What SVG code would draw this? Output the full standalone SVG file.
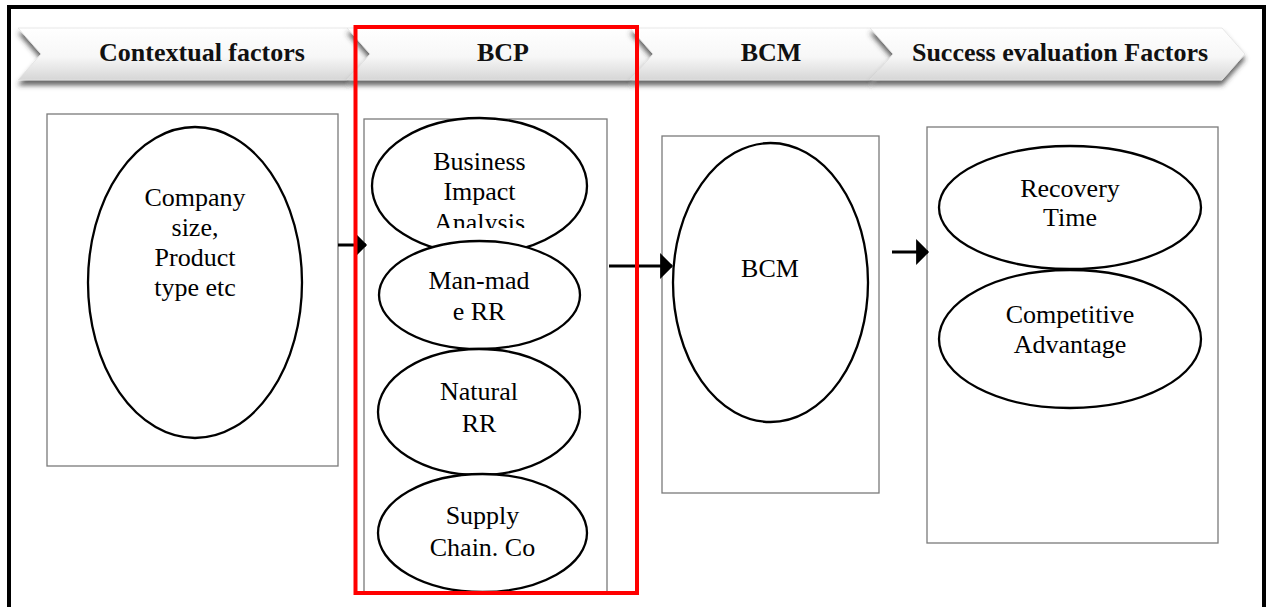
<svg xmlns="http://www.w3.org/2000/svg" width="1268" height="607" viewBox="0 0 1268 607">
<style>
.frame{fill:none;stroke:#000;stroke-width:4}
.chev{fill:url(#chevGrad);stroke:#e2e2e2;stroke-width:0.8;filter:url(#shadow)}
.chevtxt{font-family:"Liberation Serif","Times New Roman",serif;font-size:26px;font-weight:bold;fill:#111;text-anchor:middle}
.box{fill:#fff;stroke:#7a7a7a;stroke-width:1.3}
.ell{fill:#fff;stroke:#000;stroke-width:2.3}
.lbl{font-family:"Liberation Serif","Times New Roman",serif;font-size:26px;fill:#000;text-anchor:middle}
.conn{fill:none;stroke:#000;stroke-width:3;marker-end:url(#arrow)}
.red{fill:none;stroke:#ff0000;stroke-width:4}
</style>
<defs>
<linearGradient id="chevGrad" x1="0" y1="0" x2="0" y2="1">
<stop offset="0" stop-color="#ffffff"/>
<stop offset="0.55" stop-color="#f7f7f7"/>
<stop offset="1" stop-color="#d6d6d6"/>
</linearGradient>
<filter id="shadow" x="-5%" y="-20%" width="110%" height="160%">
<feGaussianBlur in="SourceAlpha" stdDeviation="2.5"/>
<feOffset dx="0" dy="5" result="b"/>
<feFlood flood-color="#333" flood-opacity="0.75"/>
<feComposite in2="b" operator="in" result="s"/>
<feMerge><feMergeNode in="s"/><feMergeNode in="SourceGraphic"/></feMerge>
</filter>
<marker id="arrow" markerUnits="userSpaceOnUse" markerWidth="14" markerHeight="28" viewBox="0 -13 12 26" refX="11" refY="0" orient="auto">
<path d="M0,-12 L12,0 L0,12 z" fill="#000"/>
</marker>
<clipPath id="biaClip"><rect x="372" y="118" width="216" height="110"/></clipPath>
</defs>
<rect class="frame" x="9" y="7" width="1255" height="700"/>
<g id="header">
<g id="chev1"><path class="chev" d="M18,28 L347,28 L370,54 L347,80 L18,80 L41,54 z"/><text class="chevtxt" x="202" y="61">Contextual factors</text></g>
<g id="chev2"><path class="chev" d="M347,28 L630,28 L653,54 L630,80 L347,80 L370,54 z"/><text class="chevtxt" x="503" y="61">BCP</text></g>
<g id="chev3"><path class="chev" d="M630,28 L870,28 L893,54 L870,80 L630,80 L653,54 z"/><text class="chevtxt" x="771" y="61">BCM</text></g>
<g id="chev4"><path class="chev" d="M870,28 L1222,28 L1245,54 L1222,80 L870,80 L893,54 z"/><text class="chevtxt" x="1060" y="61">Success evaluation Factors</text></g>
</g>
<g id="contextual">
<rect class="box" x="47" y="114" width="291" height="352"/>
<ellipse class="ell" cx="195" cy="282.5" rx="107" ry="155.5"/>
<text class="lbl" x="195" y="206">Company</text>
<text class="lbl" x="195" y="236">size,</text>
<text class="lbl" x="195" y="266">Product</text>
<text class="lbl" x="195" y="296">type etc</text>
</g>
<g id="bcp">
<rect class="box" x="364" y="119" width="243" height="473"/>
<g id="bia">
<ellipse class="ell" cx="479.5" cy="186" rx="107.5" ry="68"/>
<g clip-path="url(#biaClip)">
<text class="lbl" x="479.5" y="170">Business</text>
<text class="lbl" x="479.5" y="200">Impact</text>
<text class="lbl" x="479.5" y="231">Analysis</text>
</g>
</g>
<g id="manmade">
<ellipse class="ell" cx="479.5" cy="295" rx="100.5" ry="54"/>
<text class="lbl" x="479" y="289">Man-mad</text>
<text class="lbl" x="479" y="320">e RR</text>
</g>
<g id="natural">
<ellipse class="ell" cx="479" cy="412" rx="101" ry="63"/>
<text class="lbl" x="479" y="400">Natural</text>
<text class="lbl" x="479" y="432">RR</text>
</g>
<g id="supply">
<ellipse class="ell" cx="482.5" cy="533" rx="104.5" ry="59"/>
<text class="lbl" x="482.5" y="524">Supply</text>
<text class="lbl" x="482.5" y="556">Chain. Co</text>
</g>
</g>
<g id="bcm">
<rect class="box" x="662" y="136" width="217" height="357"/>
<ellipse class="ell" cx="770.5" cy="282.5" rx="97.5" ry="139.5"/>
<text class="lbl" x="770" y="277">BCM</text>
</g>
<g id="success">
<rect class="box" x="927" y="127" width="291" height="416"/>
<g id="recovery">
<ellipse class="ell" cx="1070" cy="207.5" rx="131" ry="61.5"/>
<text class="lbl" x="1070" y="197">Recovery</text>
<text class="lbl" x="1070" y="226">Time</text>
</g>
<g id="competitive">
<ellipse class="ell" cx="1070" cy="339" rx="131" ry="69"/>
<text class="lbl" x="1070" y="323">Competitive</text>
<text class="lbl" x="1070" y="353">Advantage</text>
</g>
</g>
<g id="connectors">
<line class="conn" x1="338" y1="245" x2="366" y2="245"/>
<line class="conn" x1="609" y1="266" x2="672" y2="266"/>
<line class="conn" x1="892" y1="252" x2="928" y2="252"/>
</g>
<g id="highlight">
<rect class="red" x="355.5" y="27" width="281.5" height="566"/>
</g>
</svg>
